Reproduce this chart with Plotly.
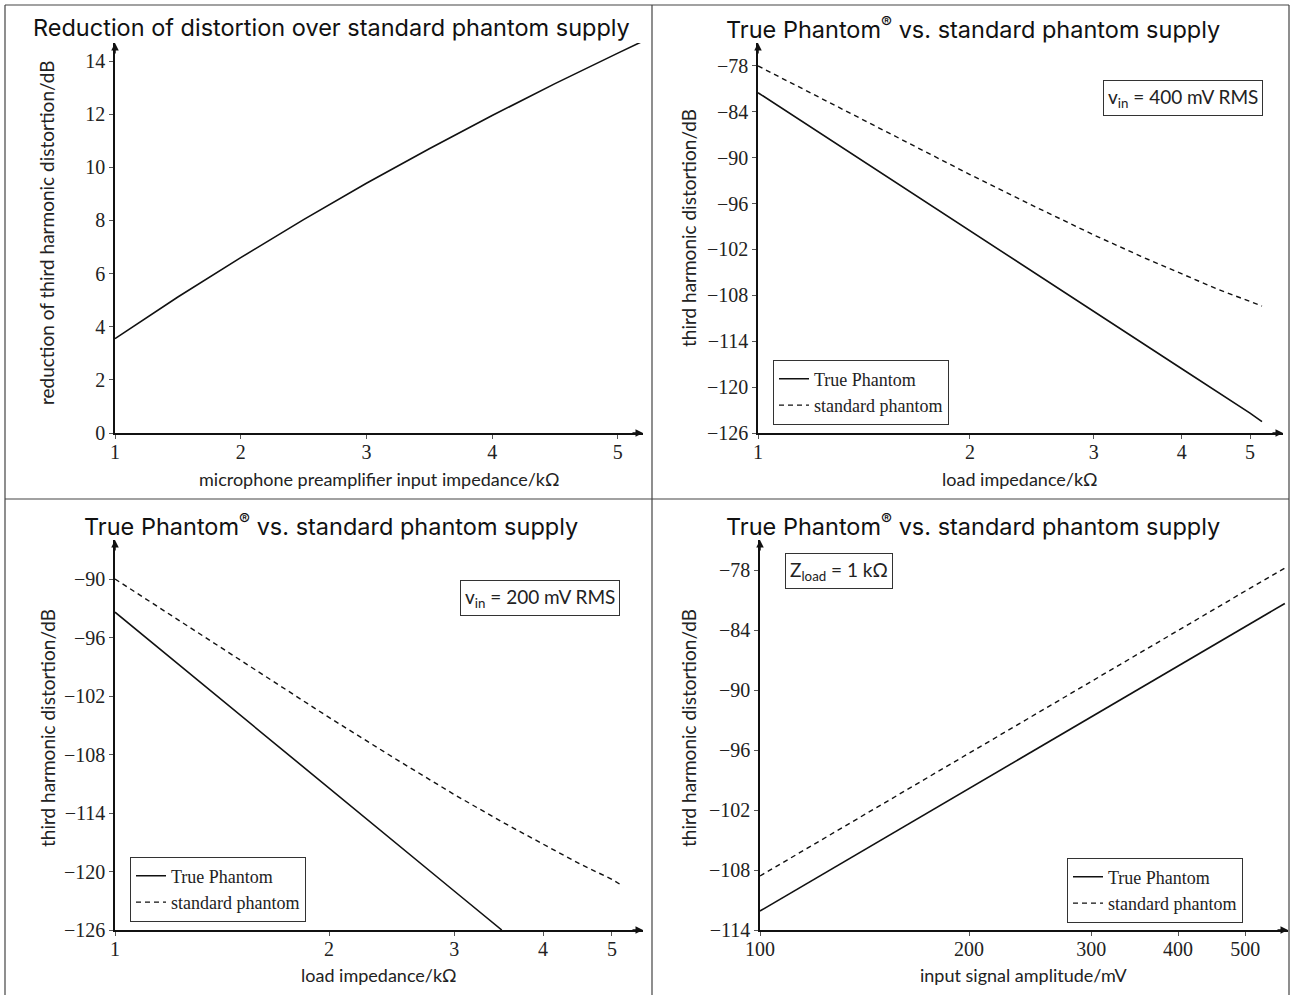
import numpy as np
import plotly.graph_objects as go

W, H = 1292, 995

# ---------------- data ----------------
p1_x = [1, 1.5, 2, 2.5, 3, 3.5, 4, 4.5, 5, 5.2]
p1_y = [3.55, 5.12, 6.6, 8.03, 9.4, 10.7, 11.95, 13.15, 14.3, 14.75]

p2_x_true = [1, 2, 3, 4, 5, 5.2]
p2_y_true = [-81.5, -99.6, -110.1, -117.6, -123.4, -124.5]
p2_x_std = [1, 1.5, 2, 2.5, 3, 3.5, 4, 4.5, 5, 5.2]
p2_y_std = [-78.0, -86.3, -92.2, -96.6, -100.1, -102.9, -105.2, -107.2, -108.8, -109.4]

p3_x_true = [1, 2, 3, 3.5]
p3_y_true = [-93.4, -111.5, -122.0, -126.0]
p3_x_std = [1, 1.5, 2, 2.5, 3, 3.5, 4, 4.5, 5, 5.13]
p3_y_std = [-90.0, -98.3, -104.2, -108.6, -112.1, -114.9, -117.2, -119.2, -120.8, -121.3]

p4_x = [100, 200, 300, 400, 500, 570]
p4_y_true = [-112.1, -99.85, -92.7, -87.6, -83.65, -81.35]
p4_y_std = [-108.6, -96.3, -89.1, -84.0, -80.1, -77.8]

title1 = "Reduction of distortion over standard phantom supply"
title2 = "True Phantom<sup>®</sup> vs. standard phantom supply"
ylab1 = "reduction of third harmonic distortion/dB"
ylab2 = "third harmonic distortion/dB"
xlab1 = "microphone preamplifier input impedance/kΩ"
xlab2 = "load impedance/kΩ"
xlab4 = "input signal amplitude/mV"
name_true = "True Phantom"
name_std = "standard phantom"

# ---------------- helpers ----------------
def px(x):
    return x / W

def py(y):
    return 1 - y / H

LINE = "#111111"
SERIF = "Liberation Serif"
SANS = "Lato"
TITLEF = "Inter"

def minus(v):
    return ("−" + str(abs(v))) if v < 0 else str(v)

fig = go.Figure()

fig.add_trace(go.Scatter(x=p1_x, y=p1_y, mode="lines", line=dict(color=LINE, width=1.6),
                         showlegend=False, xaxis="x", yaxis="y"))

fig.add_trace(go.Scatter(x=p2_x_true, y=p2_y_true, mode="lines", name=name_true,
                         line=dict(color=LINE, width=1.6), xaxis="x2", yaxis="y2", legend="legend2"))
fig.add_trace(go.Scatter(x=p2_x_std, y=p2_y_std, mode="lines", name=name_std,
                         line=dict(color=LINE, width=1.4, dash="5px,4px"), xaxis="x2", yaxis="y2", legend="legend2"))

fig.add_trace(go.Scatter(x=p3_x_true, y=p3_y_true, mode="lines", name=name_true,
                         line=dict(color=LINE, width=1.6), xaxis="x3", yaxis="y3", legend="legend3"))
fig.add_trace(go.Scatter(x=p3_x_std, y=p3_y_std, mode="lines", name=name_std,
                         line=dict(color=LINE, width=1.4, dash="5px,4px"), xaxis="x3", yaxis="y3", legend="legend3"))

fig.add_trace(go.Scatter(x=p4_x, y=p4_y_true, mode="lines", name=name_true,
                         line=dict(color=LINE, width=1.6), xaxis="x4", yaxis="y4", legend="legend4"))
fig.add_trace(go.Scatter(x=p4_x, y=p4_y_std, mode="lines", name=name_std,
                         line=dict(color=LINE, width=1.4, dash="5px,4px"), xaxis="x4", yaxis="y4", legend="legend4"))

axcommon = dict(showline=True, linecolor=LINE, linewidth=1.5, ticks="outside", ticklen=4,
                tickcolor="#555", tickwidth=1, showgrid=False, zeroline=False, automargin=False,
                tickfont=dict(family=SERIF, size=20, color="#222"))
xcommon = dict(ticklabelstandoff=-4, **axcommon)

# panel geometry (pixels): x0, x1, ybottom, ytop
g1 = (115, 643, 433, 43)
g2 = (758, 1283, 433, 43)
g3 = (115, 643, 930, 540)
g4 = (760, 1288, 930, 540)

y2ticks = list(range(-126, -77, 6))
y3ticks = list(range(-126, -89, 6))
y4ticks = list(range(-114, -77, 6))

fig.update_layout(
    width=W, height=H, margin=dict(l=0, r=0, t=0, b=0, pad=0, autoexpand=False),
    paper_bgcolor="white", plot_bgcolor="white",
    xaxis=dict(domain=[px(g1[0]), px(g1[1])], range=[1, 5.2], anchor="y",
               tickvals=[1, 2, 3, 4, 5], **xcommon),
    yaxis=dict(domain=[py(g1[2]), py(g1[3])], range=[0, 14.68], anchor="x",
               tickvals=list(range(0, 15, 2)), **axcommon),
    xaxis2=dict(domain=[px(g2[0]), px(g2[1])], type="log", range=[0, np.log10(5.57)], anchor="y2",
                tickvals=[1, 2, 3, 4, 5], ticktext=["1", "2", "3", "4", "5"], **xcommon),
    yaxis2=dict(domain=[py(g2[2]), py(g2[3])], range=[-126, -75], anchor="x2",
                tickvals=y2ticks, ticktext=[minus(v) for v in y2ticks], **axcommon),
    xaxis3=dict(domain=[px(g3[0]), px(g3[1])], type="log", range=[0, np.log10(5.53)], anchor="y3",
                tickvals=[1, 2, 3, 4, 5], ticktext=["1", "2", "3", "4", "5"], **xcommon),
    yaxis3=dict(domain=[py(g3[2]), py(g3[3])], range=[-126, -86], anchor="x3",
                tickvals=y3ticks, ticktext=[minus(v) for v in y3ticks], **axcommon),
    xaxis4=dict(domain=[px(g4[0]), px(g4[1])], type="log", range=[2, np.log10(576)], anchor="y4",
                tickvals=[100, 200, 300, 400, 500], ticktext=["100", "200", "300", "400", "500"], **xcommon),
    yaxis4=dict(domain=[py(g4[2]), py(g4[3])], range=[-114, -75], anchor="x4",
                tickvals=y4ticks, ticktext=[minus(v) for v in y4ticks], **axcommon),
    showlegend=True,
)

legcommon = dict(xanchor="left", yanchor="middle", bordercolor="#333", borderwidth=1, bgcolor="white",
                 font=dict(family=SERIF, size=18, color="#222"), itemwidth=30, tracegroupgap=0)
fig.update_layout(
    legend2=dict(x=px(773), y=py(392), **legcommon),
    legend3=dict(x=px(130), y=py(889), **legcommon),
    legend4=dict(x=px(1067), y=py(890), **legcommon),
)

ann = []
# arrowheads
for (x0, x1, yb, yt) in [g1, g2, g3, g4]:
    ann.append(dict(xref="paper", yref="paper", x=px(x1), y=py(yb), ax=-12, ay=0, text="",
                    showarrow=True, arrowhead=2, arrowsize=1, arrowwidth=1.5, arrowcolor=LINE))
    ann.append(dict(xref="paper", yref="paper", x=px(x0), y=py(yt), ax=0, ay=12, text="",
                    showarrow=True, arrowhead=2, arrowsize=1, arrowwidth=1.5, arrowcolor=LINE))

# titles
for (cx, cy, t) in [(331, 28, title1), (973, 28, title2), (331, 525, title2), (973, 525, title2)]:
    ann.append(dict(xref="paper", yref="paper", x=px(cx), y=py(cy), text=t, showarrow=False,
                    xanchor="center", yanchor="middle", font=dict(family=TITLEF, size=23.5, color="#111")))

# axis labels
for (cx, cy, t) in [(379, 479, xlab1), (1020, 479, xlab2), (379, 975, xlab2), (1024, 975, xlab4)]:
    ann.append(dict(xref="paper", yref="paper", x=px(cx), y=py(cy), text=t, showarrow=False,
                    xanchor="center", yanchor="middle", font=dict(family=SANS, size=18, color="#222")))
for (cx, cy, t) in [(47, 233, ylab1), (688, 228, ylab2), (47, 728, ylab2), (688, 728, ylab2)]:
    ann.append(dict(xref="paper", yref="paper", x=px(cx), y=py(cy), text=t, showarrow=False,
                    textangle=-90, xanchor="center", yanchor="middle",
                    font=dict(family=SANS, size=19, color="#222")))

# boxed notes
for (cx, cy, t) in [(1183, 97.5, "v<sub>in</sub> = 400 mV RMS"),
                    (540, 598, "v<sub>in</sub> = 200 mV RMS"),
                    (838.5, 570.5, "Z<sub>load</sub> = 1 kΩ")]:
    ann.append(dict(xref="paper", yref="paper", x=px(cx), y=py(cy), text=t, showarrow=False,
                    xanchor="center", yanchor="middle", bordercolor="#333", borderwidth=1, borderpad=4,
                    bgcolor="white", font=dict(family=SANS, size=19, color="#222")))

fig.update_layout(annotations=ann)

# cell borders
shapes = []
for (x0, y0, x1, y1) in [(5, 5, 1289, 5), (5, 5, 5, 995), (1289, 5, 1289, 995),
                         (652, 5, 652, 995), (5, 499, 1289, 499)]:
    shapes.append(dict(type="line", xref="paper", yref="paper", x0=px(x0), y0=py(y0), x1=px(x1), y1=py(y1),
                       line=dict(color="#444", width=1.2)))
fig.update_layout(shapes=shapes)

fig.write_html("out.html", config={"displayModeBar": False},
               post_script="document.body.style.margin='0';document.body.style.overflow='hidden';")
